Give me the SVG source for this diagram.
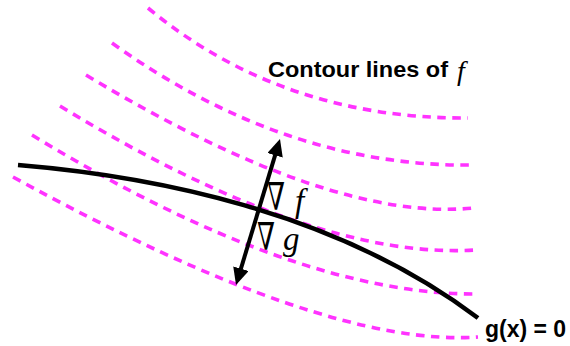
<svg xmlns="http://www.w3.org/2000/svg" width="570" height="346" viewBox="0 0 570 346">
  <style>
    .contour { fill: none; stroke: #ff33ff; stroke-width: 3.6; stroke-dasharray: 8.5 6.5; }
    .curve { fill: none; stroke: #000; stroke-width: 4.5; }
    .grad { fill: none; stroke: #000; stroke-width: 4; }
    .lbl { font-family: "Liberation Sans", Arial, sans-serif; font-weight: bold; fill: #000; }
    .math { font-family: "Liberation Serif", "DejaVu Serif", serif; fill: #000; }
    .nabla { font-size: 38px; font-style: normal; }
    .it { font-style: italic; }
  </style>
  <defs>
    <marker id="head" markerUnits="userSpaceOnUse" viewBox="0 0 17 16" markerWidth="17" markerHeight="16" refX="7" refY="8" orient="auto-start-reverse">
      <path d="M0,0 L17,8 L0,16 z" fill="#000"/>
    </marker>
  </defs>

  <g id="contours">
    <path class="contour" d="M148,8 Q282,119 468,118"/>
    <path class="contour" d="M112,43 Q286.5,168 475,165"/>
    <path class="contour" d="M86,75 Q330.5,222.5 473,208"/>
    <path class="contour" d="M60,106 Q312.5,260 475,250"/>
    <path class="contour" d="M32,135 Q295,295.5 478,294"/>
    <path class="contour" d="M13,177 Q324.5,348 478,337"/>
  </g>

  <g id="constraint">
    <path class="curve" d="M18,165 C150,176 335,210 478,318"/>
  </g>

  <g id="gradients">
    <line class="grad" x1="277.1" y1="148.6" x2="238.9" y2="275.4" marker-start="url(#head)" marker-end="url(#head)"/>
  </g>

  <g id="labels">
    <text class="lbl" x="268" y="77" font-size="22" textLength="180" lengthAdjust="spacingAndGlyphs">Contour lines of</text>
    <text class="math it" x="457" y="80" font-size="28">f</text>
    <text class="math" font-size="33"><tspan class="nabla" x="267" y="210" textLength="18" lengthAdjust="spacingAndGlyphs">∇</tspan><tspan class="it" x="295" y="212">f</tspan></text>
    <text class="math" font-size="33"><tspan class="nabla" x="257" y="250" textLength="18" lengthAdjust="spacingAndGlyphs">∇</tspan><tspan class="it" x="283" y="250">g</tspan></text>
    <text class="lbl" x="485" y="337" font-size="23">g(x) = 0</text>
  </g>
</svg>
